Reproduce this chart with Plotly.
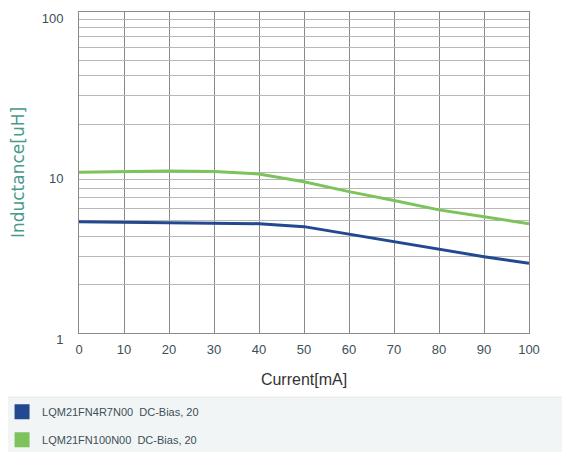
import plotly.graph_objects as go

current_ma = [0, 10, 20, 30, 40, 50, 60, 70, 80, 90, 100]
l_4r7 = [4.94, 4.90, 4.88, 4.86, 4.80, 4.60, 4.12, 3.71, 3.32, 2.99, 2.72]
l_100 = [10.05, 10.15, 10.2, 10.15, 9.8, 8.75, 7.6, 6.7, 5.85, 5.3, 4.8]

names = ["LQM21FN4R7N00  DC-Bias, 20", "LQM21FN100N00  DC-Bias, 20"]
colors = ["#22488f", "#7dc35b"]

y_tickvals = [v * d for d in (1, 10) for v in range(1, 10)] + [100]
y_ticktext = [str(v) if v in (1, 10, 100) else "" for v in y_tickvals]

fig = go.Figure()
for i, (ys, name, col) in enumerate(zip([l_4r7, l_100], names, colors)):
    fig.add_trace(go.Scatter(x=current_ma, y=ys, mode="lines", line=dict(color=col, width=3),
                             showlegend=False, hoverinfo="skip"))
    # square swatch for the legend
    fig.add_trace(go.Scatter(x=[None], y=[None], mode="markers", name=name, legendgroup=f"g{i}",
                             marker=dict(symbol="square", size=15, color=col)))

# grey band behind the legend
fig.add_shape(type="rect", xref="paper", yref="paper", x0=-0.2, x1=1.2, y0=-0.4, y1=-0.2,
              fillcolor="#f2f5f5", line=dict(color="#e4e8e8", width=1), layer="below")

# page body has an 8px margin, so the figure is 8px smaller and margins shifted
fig.update_layout(
    width=562, height=444,
    margin=dict(l=71, r=41, t=4, b=119, autoexpand=False),
    paper_bgcolor="white", plot_bgcolor="white",
    font=dict(family="Liberation Sans, Arial, sans-serif", color="#3c4f5a"),
    legend=dict(x=-0.171, y=-0.2, xanchor="left", yanchor="top", orientation="v",
                font=dict(size=11, color="#3c4f5a"), bgcolor="rgba(0,0,0,0)",
                tracegroupgap=9),
    xaxis=dict(range=[0, 100], dtick=10, showgrid=True, gridcolor="#8a8a8a", gridwidth=1,
               showline=True, linecolor="#8a8a8a", mirror=True, zeroline=False, automargin=False,
               tickfont=dict(size=13, color="#3c4f5a"), ticks="", ticklabelstandoff=4,
               title=dict(text="Current[mA]", font=dict(size=16, color="#333333"), standoff=18)),
    yaxis=dict(type="log", range=[0, 2], tickvals=y_tickvals, ticktext=y_ticktext,
               showgrid=True, gridcolor="#b8b8b8", gridwidth=1,
               showline=True, linecolor="#8a8a8a", mirror=True, zeroline=False, automargin=False,
               tickfont=dict(size=13, color="#3c4f5a"), ticks="", ticklabelshift=6,
               ticklabelstandoff=12,
               title=dict(text="Inductance[uH]", standoff=15,
                          font=dict(family="DejaVu Sans, sans-serif", size=17, color="#4a9a8c"))),
)

fig.write_html("out.html")
